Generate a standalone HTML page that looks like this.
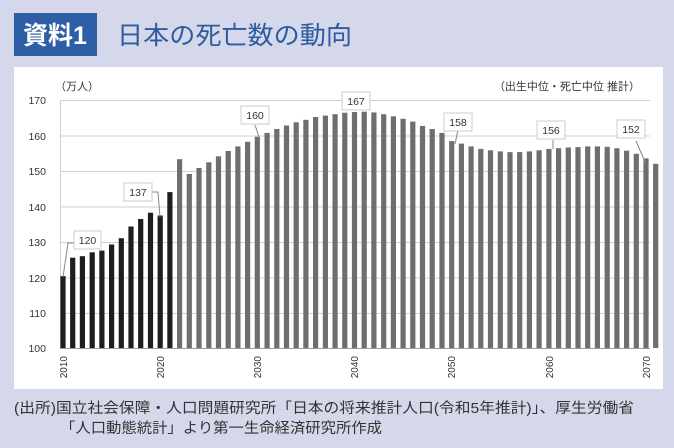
<!DOCTYPE html>
<html><head><meta charset="utf-8"><style>
body{margin:0;width:674px;height:443px;background:#d5d8ea;overflow:hidden;font-family:"Liberation Sans","Noto Sans CJK JP",sans-serif}
</style></head><body>
<svg width="674" height="443" xmlns="http://www.w3.org/2000/svg" font-family="Liberation Sans, Noto Sans CJK JP, sans-serif">
<rect x="14" y="13" width="83" height="43" fill="#2e5ea6"/>
<text x="55" y="44" fill="#fff" font-size="25" font-weight="bold" text-anchor="middle">資料1</text>
<text x="117" y="44" fill="#2d5ba0" font-size="25" textLength="235" lengthAdjust="spacingAndGlyphs">日本の死亡数の動向</text>
<rect x="14" y="67" width="649" height="322" fill="#fff"/>
<g stroke="#d0d0d0" stroke-width="1">
<line x1="60" x2="650" y1="100.5" y2="100.5"/><line x1="60" x2="650" y1="136" y2="136"/><line x1="60" x2="650" y1="171.5" y2="171.5"/><line x1="60" x2="650" y1="207" y2="207"/><line x1="60" x2="650" y1="242.5" y2="242.5"/><line x1="60" x2="650" y1="278" y2="278"/><line x1="60" x2="650" y1="313.5" y2="313.5"/>
<line x1="60.5" x2="60.5" y1="100" y2="348"/>
</g>
<line x1="60" x2="650" y1="348.5" y2="348.5" stroke="#999"/>
<g font-size="10.5" fill="#333" text-anchor="end">
<text x="46" y="104">170</text><text x="46" y="140">160</text><text x="46" y="175">150</text><text x="46" y="211">140</text><text x="46" y="246">130</text><text x="46" y="282">120</text><text x="46" y="317">110</text><text x="46" y="352">100</text>
</g>
<text x="55" y="90" font-size="11" fill="#333">（万人）</text>
<text x="640" y="90" font-size="11" fill="#333" text-anchor="end">（出生中位・死亡中位 推計）</text>
<g id="bars"></g>
<g font-size="10" fill="#333" text-anchor="end">
<text transform="translate(67,356) rotate(-90)">2010</text>
<text transform="translate(164,356) rotate(-90)">2020</text>
<text transform="translate(261,356) rotate(-90)">2030</text>
<text transform="translate(358,356) rotate(-90)">2040</text>
<text transform="translate(455,356) rotate(-90)">2050</text>
<text transform="translate(553,356) rotate(-90)">2060</text>
<text transform="translate(650,356) rotate(-90)">2070</text>
</g>
<g font-size="10.5" fill="#333" stroke="none">
<g stroke="#888" fill="none"><path d="M63 277 L68 243 L74 243"/><path d="M160 217 L158 192 L152 192"/><path d="M260 140 L255 125"/><path d="M455 144 L458 130"/><path d="M553 149 L553 140"/><path d="M646 164 L636 141"/></g>
<rect x="74" y="231" width="27" height="18" fill="#fff" stroke="#ccc"/><text x="87.5" y="244" text-anchor="middle">120</text>
<rect x="124" y="183" width="28" height="18" fill="#fff" stroke="#ccc"/><text x="138" y="196" text-anchor="middle">137</text>
<rect x="241" y="106" width="28" height="18" fill="#fff" stroke="#ccc"/><text x="255" y="119" text-anchor="middle">160</text>
<rect x="342" y="92" width="28" height="18" fill="#fff" stroke="#ccc"/><text x="356" y="105" text-anchor="middle">167</text>
<rect x="444" y="113" width="28" height="18" fill="#fff" stroke="#ccc"/><text x="458" y="126" text-anchor="middle">158</text>
<rect x="537" y="121" width="28" height="18" fill="#fff" stroke="#ccc"/><text x="551" y="134" text-anchor="middle">156</text>
<rect x="617" y="120" width="28" height="18" fill="#fff" stroke="#ccc"/><text x="631" y="133" text-anchor="middle">152</text>
</g>
<text x="14" y="413" font-size="14.5" fill="#333" textLength="620" lengthAdjust="spacingAndGlyphs">(出所)国立社会保障・人口問題研究所「日本の将来推計人口(令和5年推計)」、厚生労働省</text>
<text x="60" y="433" font-size="14.5" fill="#333" textLength="322" lengthAdjust="spacingAndGlyphs">「人口動態統計」より第一生命経済研究所作成</text>
</svg>
<script>
var v=[120.3,125.5,125.9,127,127.5,129.2,131,134.3,136.4,138.2,137.4,144,153.3,149.1,150.8,152.4,154.1,155.6,156.9,158.2,159.6,160.7,161.8,162.8,163.7,164.4,165.2,165.6,166,166.4,166.6,166.7,166.5,166,165.4,164.7,163.9,162.7,161.8,160.7,158.4,157.7,156.9,156.2,155.8,155.5,155.3,155.3,155.5,155.8,156.2,156.4,156.6,156.7,156.9,156.9,156.8,156.4,155.7,154.8,153.5,152];
var g=document.getElementById('bars'),s='';
for(var i=0;i<v.length;i++){var x=63+i*9.717,y=348-(v[i]-100)*3.543;
s+='<rect x="'+(x-2.6).toFixed(1)+'" y="'+y.toFixed(1)+'" width="5.2" height="'+(348-y).toFixed(1)+'" fill="'+(i<12?'#1e1e1e':'#6e6e6e')+'"/>';}
g.innerHTML=s;
</script>
</body></html>
